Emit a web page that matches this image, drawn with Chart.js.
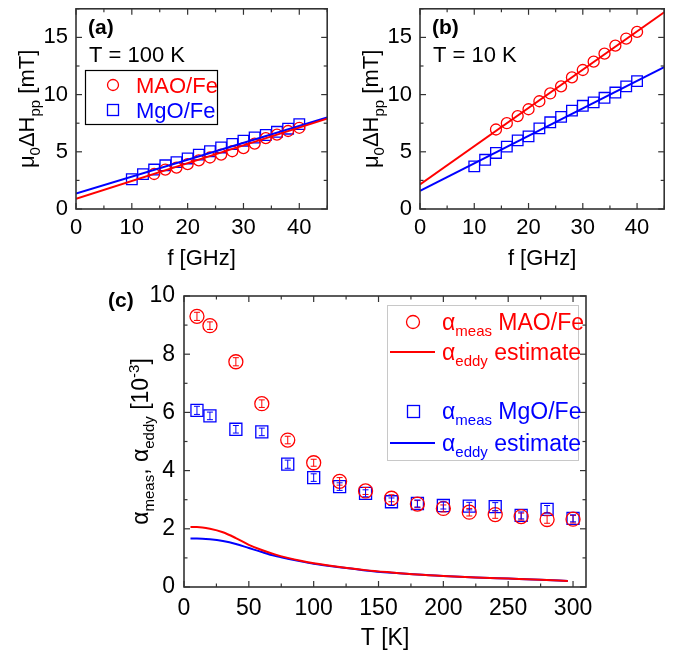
<!DOCTYPE html>
<html>
<head>
<meta charset="utf-8">
<script src="https://cdn.jsdelivr.net/npm/chart.js@4.4.0/dist/chart.umd.min.js"></script>
<style>
  body { margin: 0; background: #fff; }
  #wrap { position: relative; width: 673px; height: 659px; }
  canvas { position: absolute; }
</style>
</head>
<body>
<div id="wrap">
  <canvas id="chartA" width="336" height="275" style="left:0;top:0"></canvas>
  <canvas id="chartB" width="333" height="275" style="left:340px;top:0"></canvas>
  <canvas id="chartC" width="673" height="379" style="left:0;top:280px"></canvas>
</div>
<script>
// panel (a): T = 100 K
const fA_MAO = [14, 16, 18, 20, 22, 24, 26, 28, 30, 32, 34, 36, 38, 40];
const dhA_MAO = [3.06, 3.45, 3.62, 3.92, 4.25, 4.5, 4.75, 5.05, 5.32, 5.72, 6.2, 6.5, 6.82, 7.1];
const fA_MgO = [10, 12, 14, 16, 18, 20, 22, 24, 26, 28, 30, 32, 34, 36, 38, 40];
const dhA_MgO = [2.6, 3.05, 3.45, 3.82, 4.1, 4.42, 4.75, 5.05, 5.38, 5.68, 5.97, 6.25, 6.47, 6.75, 7.02, 7.42];
const fitF = [0, 45];
const fitA_MAO = [0.9, 7.9];
const fitA_MgO = [1.35, 8.0];

// panel (b): T = 10 K
const fB_MAO = [14, 16, 18, 20, 22, 24, 26, 28, 30, 32, 34, 36, 38, 40];
const dhB_MAO = [6.95, 7.5, 8.12, 8.72, 9.42, 10.1, 10.72, 11.5, 12.15, 12.88, 13.58, 14.28, 14.9, 15.48];
const fB_MgO = [10, 12, 14, 16, 18, 20, 22, 24, 26, 28, 30, 32, 34, 36, 38, 40];
const dhB_MgO = [3.73, 4.3, 4.9, 5.45, 6.0, 6.35, 7.05, 7.58, 8.05, 8.6, 9.02, 9.32, 9.72, 10.18, 10.72, 11.18];
const fitB_MAO = [2.15, 17.2];
const fitB_MgO = [1.58, 12.4];

// panel (c): damping vs temperature
const temps = [10, 20, 40, 60, 80, 100, 120, 140, 160, 180, 200, 220, 240, 260, 280, 300];
const alphaMAO = [9.3, 8.98, 7.74, 6.3, 5.05, 4.27, 3.63, 3.3, 3.05, 2.85, 2.7, 2.57, 2.49, 2.42, 2.32, 2.33];
const errMAO = [0.14, 0.13, 0.14, 0.13, 0.13, 0.12, 0.13, 0.12, 0.12, 0.12, 0.12, 0.13, 0.13, 0.12, 0.13, 0.13];
const alphaMgO = [6.07, 5.88, 5.42, 5.33, 4.22, 3.76, 3.45, 3.22, 2.93, 2.87, 2.8, 2.78, 2.76, 2.46, 2.67, 2.36];
const errMgO = [0.14, 0.13, 0.13, 0.13, 0.14, 0.13, 0.13, 0.12, 0.13, 0.12, 0.12, 0.13, 0.14, 0.12, 0.13, 0.12];
const eddyT = [5, 10, 20, 30, 40, 50, 60, 70, 80, 90, 100, 120, 140, 160, 180, 200, 225, 250, 275, 296];
const eddyMAO = [2.06, 2.06, 2.0, 1.88, 1.68, 1.45, 1.27, 1.12, 1.0, 0.9, 0.82, 0.69, 0.58, 0.5, 0.43, 0.38, 0.33, 0.29, 0.25, 0.21];
const eddyMgO = [1.67, 1.67, 1.64, 1.58, 1.48, 1.34, 1.2, 1.07, 0.97, 0.88, 0.8, 0.68, 0.57, 0.49, 0.43, 0.38, 0.33, 0.29, 0.25, 0.21];

const FONT = '"Liberation Sans", Arial, sans-serif';
const RED = '#ff0000';
const BLUE = '#0000ff';
Chart.defaults.font.family = FONT;
Chart.defaults.color = '#000';

const pts = (xs, ys) => xs.map((x, i) => ({ x: x, y: ys[i] }));

// text with sub/superscripts: parts = [text, size, shift, bold]
function rich(ctx, parts, x, y, opts) {
  const o = Object.assign({ align: 'center', rotate: false, color: '#000' }, opts);
  ctx.save();
  ctx.translate(x, y);
  if (o.rotate) ctx.rotate(-Math.PI / 2);
  ctx.fillStyle = o.color;
  ctx.textBaseline = 'alphabetic';
  const fontOf = p => (p[3] ? 'bold ' : '') + p[1] + 'px ' + FONT;
  let w = 0;
  parts.forEach(p => { ctx.font = fontOf(p); w += ctx.measureText(p[0]).width; });
  let cx = o.align === 'center' ? -w / 2 : 0;
  const base = parts[0][1] * 0.36;
  parts.forEach(p => {
    ctx.font = fontOf(p);
    ctx.fillText(p[0], cx, base + (p[2] || 0));
    cx += ctx.measureText(p[0]).width;
  });
  ctx.restore();
}

// box frame with inward ticks on all four sides
const frameTicks = {
  id: 'frameTicks',
  afterDatasetsDraw(chart, args, opts) {
    const { ctx, chartArea: a, scales: { x, y } } = chart;
    ctx.save();
    ctx.strokeStyle = '#333';
    ctx.lineWidth = 1.2;
    const line = (x1, y1, x2, y2) => { ctx.beginPath(); ctx.moveTo(x1, y1); ctx.lineTo(x2, y2); ctx.stroke(); };
    const isMajor = (v, step) => Math.abs(v / step - Math.round(v / step)) < 1e-6;
    for (let v = x.min; v <= x.max + 1e-9; v += opts.xMinor) {
      const px = x.getPixelForValue(v);
      const L = isMajor(v, opts.xMajor) ? 6 : 3.5;
      line(px, a.bottom, px, a.bottom - L);
      line(px, a.top, px, a.top + L);
    }
    for (let v = y.min; v <= y.max + 1e-9; v += opts.yMinor) {
      const py = y.getPixelForValue(v);
      const L = isMajor(v, opts.yMajor) ? 6 : 3.5;
      line(a.left, py, a.left + L, py);
      line(a.right, py, a.right - L, py);
    }
    ctx.lineWidth = 1.6;
    ctx.strokeRect(a.left, a.top, a.right - a.left, a.bottom - a.top);
    ctx.restore();
  }
};

function axisX(min, max, step, size, pad, h) {
  return {
    type: 'linear', min: min, max: max,
    afterFit: s => { s.height = h; s.paddingLeft = 0; s.paddingRight = 0; },
    grid: { display: false, drawTicks: false }, border: { display: false },
    ticks: { stepSize: step, includeBounds: false, autoSkip: false, maxRotation: 0, padding: pad, font: { size: size }, color: '#000' }
  };
}
function axisY(min, max, step, size, pad, w) {
  return {
    type: 'linear', min: min, max: max,
    afterFit: s => { s.width = w; s.paddingTop = 0; s.paddingBottom = 0; },
    grid: { display: false, drawTicks: false }, border: { display: false },
    ticks: { stepSize: step, includeBounds: false, autoSkip: false, padding: pad, font: { size: size }, color: '#000' }
  };
}

function smallPanel(id, mao, mgo, fitMao, fitMgo, label, tempText, legend, padRight, yW) {
  const texts = {
    id: 'texts',
    afterDraw(chart) {
      const { ctx, chartArea: a } = chart;
      rich(ctx, [[label, 21, 0, true]], a.left + 12, a.top + 18, { align: 'left' });
      rich(ctx, [[tempText, 22]], a.left + 13, a.top + 45, { align: 'left' });
      rich(ctx, [['f [GHz]', 22]], (a.left + a.right) / 2, 257, {});
      rich(ctx, [['\u03bc', 22], ['0', 15, 6], ['\u0394H', 22], ['pp', 15, 6], [' [mT]', 22]],
        a.left - 50, (a.top + a.bottom) / 2, { rotate: true });
      if (legend) {
        ctx.save();
        ctx.strokeStyle = '#000';
        ctx.lineWidth = 1.2;
        ctx.strokeRect(85.5, 70.5, 132, 54);
        ctx.lineWidth = 1.3;
        ctx.strokeStyle = RED;
        ctx.beginPath(); ctx.arc(113, 85, 5.5, 0, Math.PI * 2); ctx.stroke();
        ctx.strokeStyle = BLUE;
        ctx.strokeRect(107.5, 104.5, 11, 11);
        ctx.restore();
        rich(ctx, [['MAO/Fe', 22]], 136, 85, { align: 'left', color: RED });
        rich(ctx, [['MgO/Fe', 22]], 136, 110, { align: 'left', color: BLUE });
      }
    }
  };
  return new Chart(document.getElementById(id), {
    type: 'scatter',
    data: {
      datasets: [
        { data: pts(fitF, fitMao), showLine: true, borderColor: RED, borderWidth: 2, pointRadius: 0 },
        { data: pts(fitF, fitMgo), showLine: true, borderColor: BLUE, borderWidth: 2, pointRadius: 0 },
        { data: mao, pointStyle: 'circle', pointRadius: 5.5, borderColor: RED, backgroundColor: 'rgba(0,0,0,0)', borderWidth: 1.3 },
        { data: mgo, pointStyle: 'rect', pointRadius: 7.5, borderColor: BLUE, backgroundColor: 'rgba(0,0,0,0)', borderWidth: 1.3 }
      ]
    },
    options: {
      responsive: false, animation: false, devicePixelRatio: 1,
      layout: { padding: { top: 5, right: padRight, left: 0, bottom: 0 } },
      plugins: {
        legend: { display: false }, tooltip: { enabled: false },
        frameTicks: { xMajor: 10, xMinor: 5, yMajor: 5, yMinor: 2.5 }
      },
      scales: { x: axisX(0, 45, 10, 22, 6, 66), y: axisY(0, 17.5, 5, 22, 8, yW) }
    },
    plugins: [frameTicks, texts]
  });
}

smallPanel('chartA', pts(fA_MAO, dhA_MAO), pts(fA_MgO, dhA_MgO), fitA_MAO, fitA_MgO, '(a)', 'T = 100 K', true, 7, 76);
smallPanel('chartB', pts(fB_MAO, dhB_MAO), pts(fB_MgO, dhB_MgO), fitB_MAO, fitB_MgO, '(b)', 'T = 10 K', false, 1, 80);

// panel (c)
const errorBars = {
  id: 'errorBars',
  afterDatasetsDraw(chart) {
    const { ctx, scales: { x, y } } = chart;
    ctx.save();
    ctx.lineWidth = 1;
    chart.data.datasets.forEach(ds => {
      if (!ds.errors) return;
      ctx.strokeStyle = ds.borderColor;
      ds.data.forEach((p, i) => {
        const px = x.getPixelForValue(p.x);
        const y1 = y.getPixelForValue(p.y + ds.errors[i]);
        const y2 = y.getPixelForValue(p.y - ds.errors[i]);
        ctx.beginPath();
        ctx.moveTo(px, y1); ctx.lineTo(px, y2);
        ctx.moveTo(px - 3, y1); ctx.lineTo(px + 3, y1);
        ctx.moveTo(px - 3, y2); ctx.lineTo(px + 3, y2);
        ctx.stroke();
      });
    });
    ctx.restore();
  }
};

const textsC = {
  id: 'textsC',
  afterDraw(chart) {
    const { ctx, chartArea: a } = chart;
    rich(ctx, [['(c)', 21, 0, true]], 108, 19, { align: 'left' });
    rich(ctx, [['T [K]', 23]], (a.left + a.right) / 2, 357, {});
    rich(ctx, [['\u03b1', 23], ['meas', 15, 6], [', ', 23], ['\u03b1', 23], ['eddy', 15, 6], [' [10', 23], ['-3', 15, -9], [']', 23]],
      140, (a.top + a.bottom) / 2, { rotate: true });
    ctx.save();
    ctx.strokeStyle = '#c8c8c8';
    ctx.lineWidth = 1;
    ctx.strokeRect(387.5, 25.5, 191, 155);
    ctx.lineWidth = 1.3;
    ctx.strokeStyle = RED;
    ctx.beginPath(); ctx.arc(413, 42, 6.5, 0, Math.PI * 2); ctx.stroke();
    ctx.lineWidth = 2;
    ctx.beginPath(); ctx.moveTo(390, 72); ctx.lineTo(435, 72); ctx.stroke();
    ctx.strokeStyle = BLUE;
    ctx.lineWidth = 1.3;
    ctx.strokeRect(407.5, 125.5, 12, 12);
    ctx.lineWidth = 2;
    ctx.beginPath(); ctx.moveTo(390, 163); ctx.lineTo(435, 163); ctx.stroke();
    ctx.restore();
    rich(ctx, [['\u03b1', 23], ['meas', 15, 6], [' MAO/Fe', 23]], 442, 42, { align: 'left', color: RED });
    rich(ctx, [['\u03b1', 23], ['eddy', 15, 6], [' estimate', 23]], 442, 72, { align: 'left', color: RED });
    rich(ctx, [['\u03b1', 23], ['meas', 15, 6], [' MgO/Fe', 23]], 442, 131, { align: 'left', color: BLUE });
    rich(ctx, [['\u03b1', 23], ['eddy', 15, 6], [' estimate', 23]], 442, 163, { align: 'left', color: BLUE });
  }
};

new Chart(document.getElementById('chartC'), {
  type: 'scatter',
  data: {
    datasets: [
      { data: pts(eddyT, eddyMAO), showLine: true, borderColor: RED, borderWidth: 2, pointRadius: 0, cubicInterpolationMode: 'monotone' },
      { data: pts(eddyT, eddyMgO), showLine: true, borderColor: BLUE, borderWidth: 2, pointRadius: 0, cubicInterpolationMode: 'monotone' },
      { data: pts(temps, alphaMAO), errors: errMAO, pointStyle: 'circle', pointRadius: 7, borderColor: RED, backgroundColor: 'rgba(0,0,0,0)', borderWidth: 1.3 },
      { data: pts(temps, alphaMgO), errors: errMgO, pointStyle: 'rect', pointRadius: 8.5, borderColor: BLUE, backgroundColor: 'rgba(0,0,0,0)', borderWidth: 1.3 }
    ]
  },
  options: {
    responsive: false, animation: false, devicePixelRatio: 1,
    layout: { padding: { top: 16, right: 87, left: 0, bottom: 0 } },
    plugins: {
      legend: { display: false }, tooltip: { enabled: false },
      frameTicks: { xMajor: 50, xMinor: 25, yMajor: 2, yMinor: 1 }
    },
    scales: { x: axisX(0, 310, 50, 23, 8, 72), y: axisY(0, 10, 2, 23, 9, 184) }
  },
  plugins: [frameTicks, errorBars, textsC]
});
</script>
</body>
</html>
